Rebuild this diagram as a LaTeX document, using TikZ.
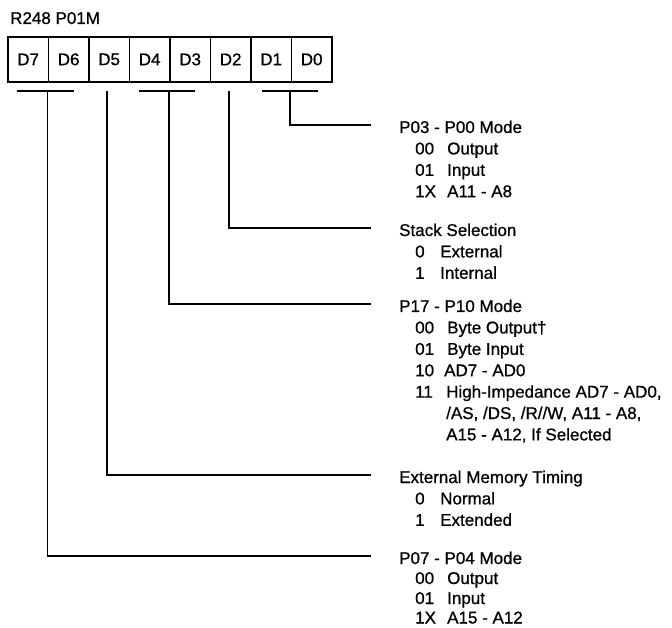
\documentclass[tikz,border=0pt]{standalone}
\usepackage{fontspec}
\setmainfont{Liberation Sans}[FakeBold=0.8]
\begin{document}
\begin{tikzpicture}[x=1pt,y=-1pt]
\tikzset{
  conn/.style={line width=1.7pt},
  cell/.style={draw, line width=1.8pt, minimum width=40.5pt, minimum height=45pt,
               inner sep=0pt, anchor=north west, font=\fontsize{17}{20}\selectfont},
  txt/.style={anchor=base west, inner sep=0pt, font=\fontsize{17}{20}\selectfont},
}
\useasboundingbox (0,0) rectangle (672,628);
\fill[white] (0,0) rectangle (672,628);

% title
\node[txt] (title) at (10,24) {R248 P01M};

% register cells
\foreach \i/\lab in {0/D7,1/D6,2/D5,3/D4,4/D3,5/D2,6/D1,7/D0}
  \node[cell] (c\lab) at ({7+40.5*\i},36) {\lab};

% bars under the bit fields
\coordinate (b76l) at (17,91);  \coordinate (b76r) at (74,91);
\coordinate (b43l) at (139,91); \coordinate (b43r) at (195,91);
\coordinate (b10l) at (262,91); \coordinate (b10r) at (318,91);
\draw[conn] (b76l) -- (b76r);
\draw[conn] (b43l) -- (b43r);
\draw[conn] (b10l) -- (b10r);

% drop points
\coordinate (d76) at (47.5,91);
\coordinate (d5)  at (107,91);
\coordinate (d43) at (169,91);
\coordinate (d2)  at (229,91);
\coordinate (d10) at (290,91);

% line ends
\coordinate (e0) at (371,125);
\coordinate (e1) at (371,228);
\coordinate (e2) at (371,304);
\coordinate (e3) at (371,475);
\coordinate (e4) at (371,556);

\draw[conn] (d10) |- (e0);
\draw[conn] (d2)  |- (e1);
\draw[conn] (d43) |- (e2);
\draw[conn] (d5)  |- (e3);
\draw[conn] (d76) |- (e4);

% P03 - P00 Mode
\node[txt] (t0) at (399,133) {P03 - P00 Mode};
\node[txt] (t0a) at (415,154.4) {00}; \node[txt] (t0ad) at (447,154.4) {Output};
\node[txt] (t0b) at (415,175.8) {01}; \node[txt] (t0bd) at (447,175.8) {Input};
\node[txt] (t0c) at (415,197.2) {1X}; \node[txt] (t0cd) at (447,197.2) {A11 - A8};

% Stack Selection
\node[txt] (t1) at (399,236) {Stack Selection};
\node[txt] (t1a) at (415,257.4) {0}; \node[txt] (t1ad) at (440,257.4) {External};
\node[txt] (t1b) at (415,278.8) {1}; \node[txt] (t1bd) at (440,278.8) {Internal};

% P17 - P10 Mode
\node[txt] (t2) at (399,312) {P17 - P10 Mode};
\node[txt] (t2a) at (415,333.4) {00}; \node[txt] (t2ad) at (447,333.4) {Byte Output†};
\node[txt] (t2b) at (415,354.8) {01}; \node[txt] (t2bd) at (447,354.8) {Byte Input};
\node[txt] (t2c) at (415,376.2) {10}; \node[txt] (t2cd) at (444,376.2) {AD7 - AD0};
\node[txt] (t2d) at (415,397.6) {11}; \node[txt] (t2dd) at (446,397.6) {High-Impedance AD7 - AD0,};
\node[txt] (t2e) at (446,419) {/AS, /DS, /R//W, A11 - A8,};
\node[txt] (t2f) at (446,440.4) {A15 - A12, If Selected};

% External Memory Timing
\node[txt] (t3) at (399,483) {External Memory Timing};
\node[txt] (t3a) at (415,504.4) {0}; \node[txt] (t3ad) at (440,504.4) {Normal};
\node[txt] (t3b) at (415,525.8) {1}; \node[txt] (t3bd) at (440,525.8) {Extended};

% P07 - P04 Mode
\node[txt] (t4) at (399,564) {P07 - P04 Mode};
\node[txt] (t4a) at (415,584) {00}; \node[txt] (t4ad) at (447,584) {Output};
\node[txt] (t4b) at (415,604) {01}; \node[txt] (t4bd) at (447,604) {Input};
\node[txt] (t4c) at (415,623.5) {1X}; \node[txt] (t4cd) at (447,623.5) {A15 - A12};
\end{tikzpicture}
\end{document}
